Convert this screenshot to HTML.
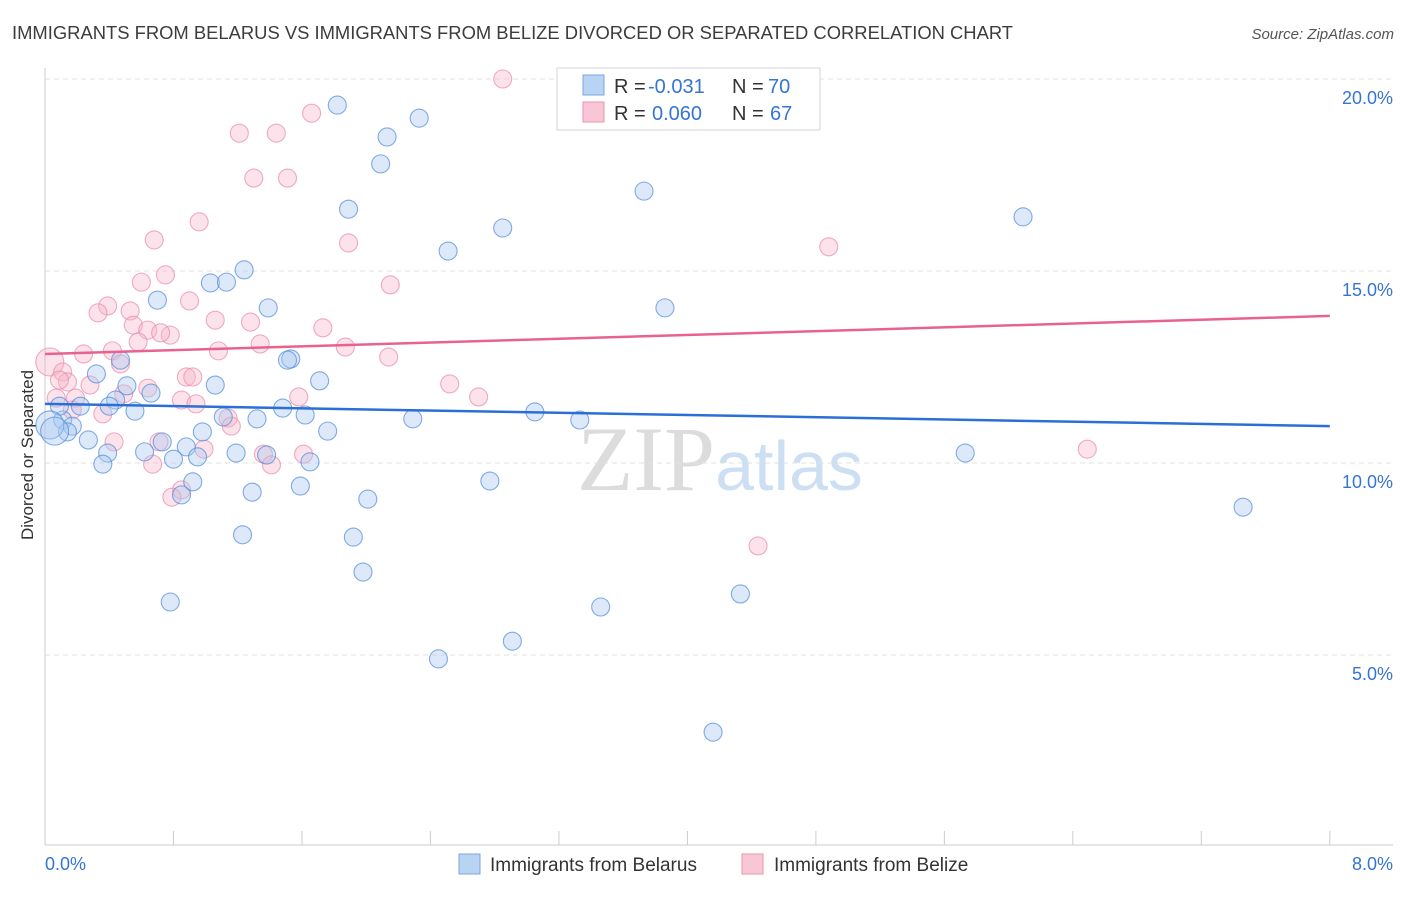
<!DOCTYPE html>
<html><head><meta charset="utf-8"><style>
body{margin:0;background:#fff;font-family:"Liberation Sans",sans-serif}
</style></head><body>
<svg id="chart" width="1406" height="892" xmlns="http://www.w3.org/2000/svg" font-family="Liberation Sans, sans-serif">
<text x="12" y="39" font-size="18.4" fill="#3c3c3c">IMMIGRANTS FROM BELARUS VS IMMIGRANTS FROM BELIZE DIVORCED OR SEPARATED CORRELATION CHART</text>
<text x="1394" y="39" font-size="15" fill="#555" text-anchor="end" font-style="italic">Source: ZipAtlas.com</text>
<text transform="translate(33,455) rotate(-90)" font-size="17" fill="#333" text-anchor="middle">Divorced or Separated</text>
<text x="720" y="490" font-size="92" text-anchor="middle"><tspan fill="#dcdcdc" font-family="Liberation Serif, serif">ZIP</tspan><tspan fill="#cddff3" font-size="70">atlas</tspan></text>
<g id="grid"></g><g id="marks"></g>
<g>
<rect x="557" y="68" width="263" height="62" fill="#fff" stroke="#d6d6d6"/>
<rect x="583" y="75" width="21" height="20" fill="#b9d3f3" stroke="#7aa6e0"/>
<rect x="583" y="102" width="21" height="20" fill="#f9c6d5" stroke="#e895b0"/>
<text x="614" y="93" font-size="20" fill="#333">R =</text>
<text x="648" y="93" font-size="20" fill="#3575d3">-0.031</text>
<text x="732" y="93" font-size="20" fill="#333">N =</text>
<text x="768" y="93" font-size="20" fill="#3575d3">70</text>
<text x="614" y="120" font-size="20" fill="#333">R =</text>
<text x="652" y="120" font-size="20" fill="#3575d3">0.060</text>
<text x="732" y="120" font-size="20" fill="#333">N =</text>
<text x="770" y="120" font-size="20" fill="#3575d3">67</text>
</g>
<g>
<rect x="459" y="854" width="21" height="20" fill="#b9d3f3" stroke="#7aa6e0"/>
<text x="490" y="871" font-size="19" fill="#333">Immigrants from Belarus</text>
<rect x="742" y="854" width="21" height="20" fill="#f9c6d5" stroke="#e895b0"/>
<text x="774" y="871" font-size="19" fill="#333">Immigrants from Belize</text>
</g>
</svg>
<script>
const yTicks=[5,10,15,20];
const yTickLabels=["5.0%","10.0%","15.0%","20.0%"];
const xTickLabels=["0.0%","8.0%"];
const blueX=[1.82,2.33,2.13,2.09,3.73,1.89,6.09,2.85,2.51,1.24,1.03,1.13,0.70,1.39,3.86,1.53,1.51,0.47,0.32,1.71,0.51,1.06,0.66,0.44,1.48,0.56,0.22,1.11,1.32,1.62,3.05,3.33,2.29,0.11,0.17,0.14,1.76,0.98,0.27,0.73,0.88,0.62,1.19,0.39,0.95,0.80,1.38,1.65,0.36,5.73,2.77,0.92,1.59,1.29,0.85,2.01,7.46,1.23,1.92,1.98,4.33,3.46,0.78,2.91,2.45,4.16,0.40,0.09,0.03,0.06];
const blueY=[19.32,18.98,18.49,17.79,17.08,16.61,16.41,16.12,15.52,15.03,14.69,14.71,14.24,14.04,14.04,12.71,12.68,12.68,12.32,12.14,12.01,12.03,11.82,11.64,11.43,11.35,11.48,11.20,11.15,11.25,11.33,11.12,11.15,11.12,10.96,10.81,10.83,10.81,10.60,10.55,10.42,10.29,10.26,10.26,10.16,10.10,10.21,10.03,9.97,10.26,9.53,9.51,9.40,9.24,9.17,9.06,8.85,8.13,8.07,7.16,6.59,6.25,6.38,5.36,4.90,2.99,11.48,11.48,10.99,10.83];
const pinkX=[2.85,1.66,1.21,1.44,1.30,1.51,0.96,0.68,1.89,4.88,0.75,0.60,2.15,0.90,0.39,0.33,0.53,1.06,1.28,0.55,1.73,0.64,0.78,0.72,0.58,1.34,1.87,0.42,0.24,1.08,2.14,0.47,0.03,0.11,0.88,0.92,2.52,0.28,0.14,0.64,0.49,2.70,1.58,0.07,0.85,0.94,0.19,0.36,1.14,1.16,6.49,0.71,0.43,0.99,1.61,1.36,0.67,1.41,0.85,0.79,4.44,0.09,0.17];
const pinkY=[20.0,19.11,18.59,18.59,17.42,17.42,16.28,15.81,15.73,15.63,14.90,14.71,14.64,14.22,14.09,13.91,13.96,13.72,13.67,13.59,13.52,13.46,13.33,13.39,13.15,13.10,13.02,12.92,12.84,12.92,12.76,12.58,12.63,12.37,12.24,12.24,12.06,12.03,12.11,11.95,11.80,11.72,11.72,11.69,11.64,11.54,11.69,11.28,11.17,10.96,10.36,10.55,10.55,10.36,10.23,10.23,9.97,9.95,9.30,9.11,7.84,12.16,11.38];
const trendX=[0,8];
const trendBlue=[11.54,10.96];
const trendPink=[12.84,13.83];
const NS="http://www.w3.org/2000/svg";
const sx=v=>45+v*160.6, sy=v=>847-v*38.4;
function mk(t,a,p){const e=document.createElementNS(NS,t);for(const k in a)e.setAttribute(k,a[k]);p.appendChild(e);return e;}
const grid=document.getElementById('grid'), marks=document.getElementById('marks');
yTicks.forEach((t,i)=>{
 const l=mk('line',{x1:45,x2:1393,y1:sy(t),y2:sy(t),stroke:'#e2e2e2','stroke-dasharray':'5,4'},grid);
 
 
 const tx=mk('text',{x:1393,y:sy(t)+25,'font-size':18,fill:'#3575d3','text-anchor':'end'},grid);
 tx.textContent=yTickLabels[i];
 
 
});
const ax=mk('line',{x1:45,x2:1393,y1:845,y2:845,stroke:'#ccc'},grid);


const ay=mk('line',{x1:45,x2:45,y1:68,y2:845,stroke:'#ccc'},grid);


for(let i=0;i<=10;i++){const v=i*0.8;
 const t=mk('line',{x1:sx(v),x2:sx(v),y1:831,y2:845,stroke:'#ccc'},grid);
 
 
}
[[0,'start'],[8,'end']].forEach((p,i)=>{
 const t=mk('text',{x:i?1393:45,y:870,'font-size':18,fill:'#3575d3','text-anchor':p[1]},grid);
 t.textContent=xTickLabels[i];
 
 
});
function pts(X,Y,fill,stroke,name){X.forEach((x,i)=>{
 const r=(x<0.07)?14:9;
 const c=mk('circle',{cx:sx(x),cy:sy(Y[i]),r:r,fill:fill,'fill-opacity':0.4,stroke:stroke,'stroke-opacity':0.7,'stroke-width':1.1},marks);
 
 
});}
pts(pinkX,pinkY,'#f7b6ca','#e88aa8','point-belize');
pts(blueX,blueY,'#aac9f0','#4f8ad8','point-belarus');
const lb=mk('line',{x1:sx(trendX[0]),x2:sx(trendX[1]),y1:sy(trendBlue[0]),y2:sy(trendBlue[1]),stroke:'#2a6fd6','stroke-width':2.5},marks);


const lp=mk('line',{x1:sx(trendX[0]),x2:sx(trendX[1]),y1:sy(trendPink[0]),y2:sy(trendPink[1]),stroke:'#e8628e','stroke-width':2.5},marks);


</script>
</body></html>
